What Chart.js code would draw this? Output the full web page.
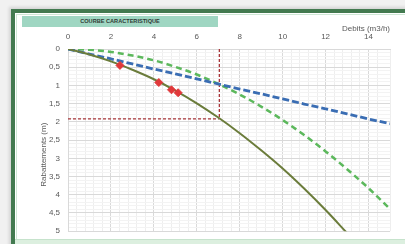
<!DOCTYPE html>
<html>
<head>
<meta charset="utf-8">
<script src="https://cdn.jsdelivr.net/npm/chart.js@4"></script>
<style>
  html, body { margin: 0; padding: 0; }
  body { width: 405px; height: 244px; overflow: hidden; background: #f1f1f1; position: relative; font-family: "Liberation Sans", Arial, sans-serif; }
  #frame { position: absolute; left: 11px; top: 9px; width: 400px; height: 240px; box-sizing: border-box;
           border-left: 4px solid #437a50; border-top: 4px solid #437a50; background: #ffffff;
           box-shadow: -2px -2px 3px rgba(0,0,0,0.12); }
  #inner { position: absolute; left: 1px; top: 1px; right: 0; bottom: 0; border-left: 1px solid #cfe8d6; border-top: 1px solid #cfe8d6; }
  #bottom { position: absolute; left: 15px; top: 239px; width: 390px; height: 5px; background: #dcefdf; border-top: 1px solid #c6e3cc; }
  #title { position: absolute; left: 22px; top: 16px; width: 196px; height: 11px; background: #9fd6c2;
           font: bold 5.6px "Liberation Sans", Arial, sans-serif; color: #2f3a35; text-align: center; line-height: 11px; }
  #c { position: absolute; left: 0; top: 0; }
</style>
</head>
<body>
<div id="frame"><div id="inner"></div></div>
<div id="bottom"></div>
<div id="title">COURBE CARACTERISTIQUE</div>
<canvas id="c" width="405" height="244"></canvas>
<script>
// Débits (m3/h)
const debits = [0,1,2,3,4,5,6,7,8,9,10,11,12,13,14,15];
// Courbe caractéristique (trait plein), Q = 0..13
const courbePleine = [0,0.15,0.34,0.57,0.83,1.14,1.49,1.88,2.31,2.78,3.28,3.83,4.42,5.05];
// Courbe verte pointillée
const courbeVerte = [0,0.02,0.08,0.18,0.31,0.49,0.70,0.96,1.25,1.58,1.95,2.36,2.81,3.30,3.82,4.39];
// Droite bleue pointillée
const courbeBleue = [0,0.14,0.27,0.41,0.55,0.68,0.82,0.96,1.10,1.23,1.37,1.51,1.64,1.78,1.92,2.05];
// Points d'essai
const essaisQ = [2.42,4.23,4.82,5.13];
const essaisS = [0.45,0.92,1.12,1.20];
// Point de fonctionnement
const refQ = 7.05;
const refS = 1.92;
// Axes
const xTicks = [0,2,4,6,8,10,12,14];
const yTicks = [0,0.5,1,1.5,2,2.5,3,3.5,4,4.5,5];

const pts = (xs, ys) => ys.map((y, i) => ({x: xs[i], y: y}));
const txt = '#595959';
const font = {family: '"Liberation Sans", Arial, sans-serif', size: 8};

const yTitlePlugin = {
  id: 'yTitle',
  afterDraw(chart) {
    const ctx = chart.ctx;
    const y = chart.scales.y;
    ctx.save();
    ctx.translate(44, y.getPixelForValue(2.9));
    ctx.rotate(-Math.PI / 2);
    ctx.fillStyle = txt;
    ctx.font = '8px "Liberation Sans", Arial, sans-serif';
    ctx.textAlign = 'center';
    ctx.textBaseline = 'middle';
    ctx.fillText('Rabattements (m)', 0, 0);
    ctx.restore();
  }
};

new Chart(document.getElementById('c'), {
  type: 'scatter',
  data: {
    datasets: [
      { data: pts([0, refQ], [refS, refS]), showLine: true, borderColor: '#a8363a', borderWidth: 1.3, borderDash: [3, 2], pointRadius: 0, order: 5 },
      { data: pts([refQ, refQ], [0, refS]), showLine: true, borderColor: '#a8363a', borderWidth: 1.3, borderDash: [3, 2], pointRadius: 0, order: 5 },
      { data: pts(debits, courbeVerte), showLine: true, borderColor: '#5cb85c', borderWidth: 2.5, borderDash: [6, 4], pointRadius: 0, cubicInterpolationMode: 'monotone', order: 4 },
      { data: pts(debits, courbeBleue), showLine: true, borderColor: '#3a6db3', borderWidth: 2.8, borderDash: [7, 3], pointRadius: 0, order: 3 },
      { data: pts(debits, courbePleine), showLine: true, borderColor: '#6b7c3b', borderWidth: 2, pointRadius: 0, cubicInterpolationMode: 'monotone', order: 2 },
      { data: pts(essaisQ, essaisS), showLine: false, pointStyle: 'rectRot', pointRadius: 4, backgroundColor: '#e0383a', borderColor: '#e0383a', borderWidth: 1, order: 1 }
    ]
  },
  options: {
    responsive: false,
    animation: false,
    events: [],
    layout: { padding: { left: 0, top: 0, right: 15, bottom: 8 } },
    plugins: { legend: { display: false }, tooltip: { enabled: false } },
    scales: {
      x: {
        type: 'linear', position: 'top', min: 0, max: 15,
        afterBuildTicks: s => { s.ticks = xTicks.map(v => ({value: v})); },
        afterFit: s => { s.height = 49; },
        grid: { color: '#d9d9d9', drawTicks: false },
        border: { color: '#d9d9d9' },
        ticks: { color: txt, font: font, padding: 7, maxRotation: 0 },
        title: { display: true, text: 'Debits (m3/h)', align: 'end', color: txt, font: {family: font.family, size: 8}, padding: { top: 24, bottom: 0 } }
      },
      x2: {
        type: 'linear', position: 'top', min: 0, max: 15,
        ticks: { display: false, stepSize: 0.4 },
        grid: { drawTicks: false, color: c => (c.index % 5 === 0 ? 'rgba(0,0,0,0)' : '#eeeeee') },
        border: { display: false },
        afterFit: s => { s.height = 0; }
      },
      y: {
        type: 'linear', position: 'left', min: 0, max: 5, reverse: true,
        afterBuildTicks: s => { s.ticks = yTicks.map(v => ({value: v})); },
        afterFit: s => { s.width = 68; },
        grid: { color: '#d9d9d9', drawTicks: false },
        border: { color: '#d9d9d9' },
        ticks: { color: txt, font: font, padding: 8, callback: v => String(v).replace('.', ',') }
      },
      y2: {
        type: 'linear', position: 'left', min: 0, max: 5, reverse: true,
        ticks: { display: false, stepSize: 0.1 },
        grid: { drawTicks: false, color: c => (c.index % 5 === 0 ? 'rgba(0,0,0,0)' : '#f3f3f3') },
        border: { display: false },
        afterFit: s => { s.width = 0; }
      }
    }
  },
  plugins: [yTitlePlugin]
});
</script>
</body>
</html>
